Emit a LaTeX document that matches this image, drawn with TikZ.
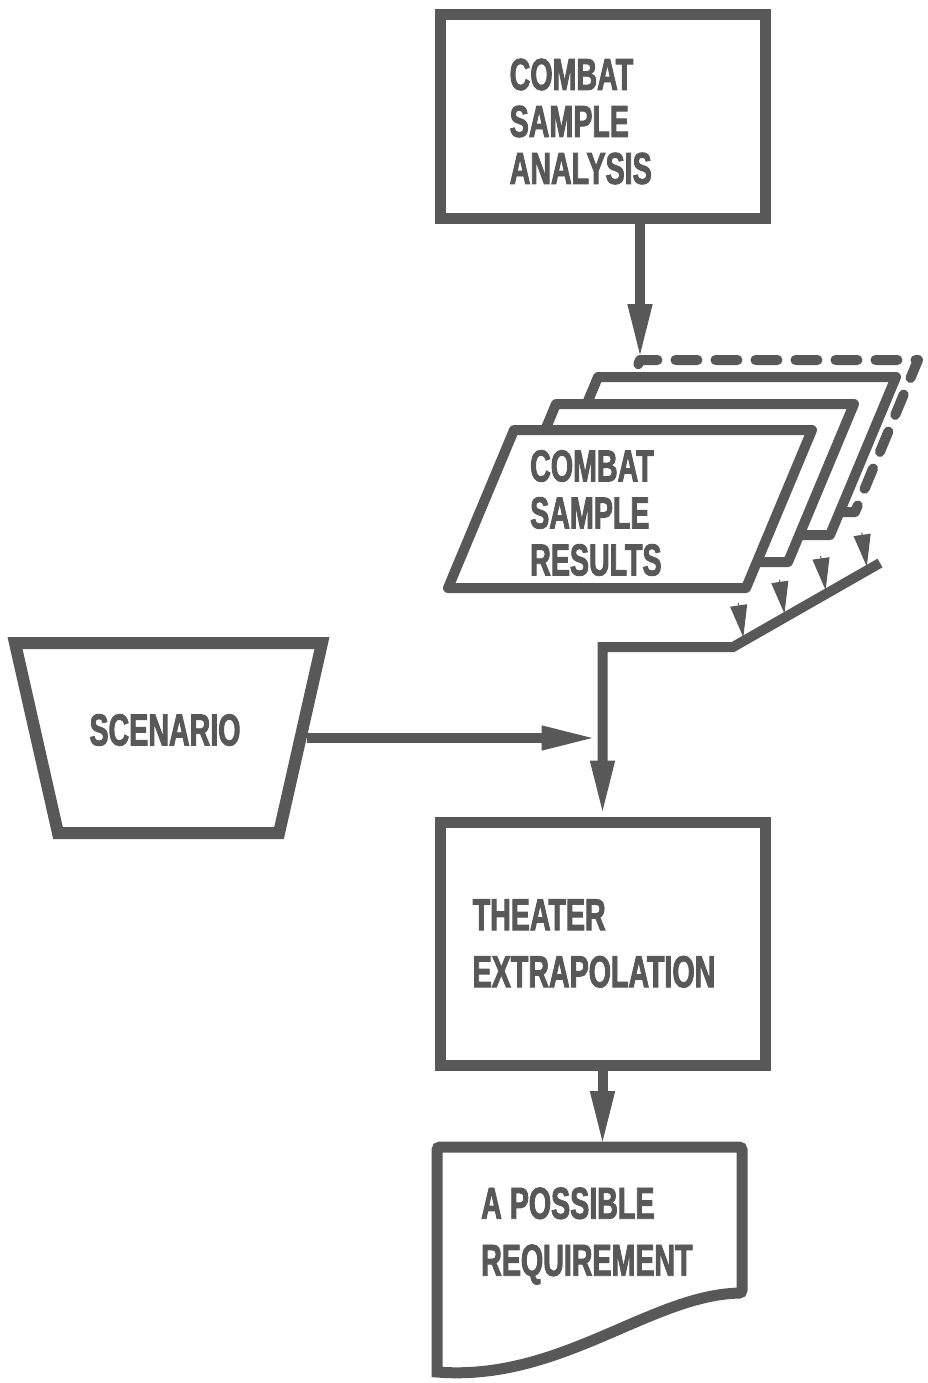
\documentclass[tikz,border=0pt]{standalone}
\usepackage{fontspec}
\newfontfamily\lblfont[FakeStretch=0.64, FakeBold=2]{Liberation Sans Bold}
\usetikzlibrary{arrows.meta, positioning, calc, shapes.geometric}
\definecolor{ink}{RGB}{88,88,88}

\tikzset{
  box/.style={draw=ink, line width=11pt, minimum width=325pt, fill=white},
  lbl/.style={text=ink, align=left, inner sep=0pt, font=\lblfont\fontsize{44.7}{47}\selectfont},
  flow/.style={draw=ink, line width=10pt, -{Triangle[length=56pt,width=22pt]}},
  sheet/.style={draw=ink, line width=10pt, fill=white, line join=round},
  tick/.style={draw=ink, line width=1pt, -{Triangle[length=32pt,width=17pt]}},
}

\begin{document}
\begin{tikzpicture}[x=1pt, y=-1pt]
  \useasboundingbox[fill=white] (0,0) rectangle (928,1383);

  \node [box, minimum height=203pt] (analysis) at (602.5,116.5) {};
  \node [lbl, right=75pt of analysis.west, yshift=-5pt] (analysisText) {COMBAT\\SAMPLE\\ANALYSIS};

  % stack of result sheets, back to front
  \coordinate (stacktop) at (640,360);
  \draw [sheet, dash pattern=on 22pt off 18pt, line cap=round]
    (577,512) -- (stacktop) -- (918,360) -- (855,512) -- cycle;
  \foreach \dx/\dy in {84/-53, 42/-26, 0/0}
    \draw [sheet, shift={(\dx,\dy)}] (448,588) -- (514,430) -- (812,430) -- (746,588) -- cycle;
  \node [lbl, anchor=west] (results) at (530,513) {COMBAT\\SAMPLE\\RESULTS};

  \draw [flow] (analysis.south -| stacktop) -- (stacktop);

  \node [draw=ink, line width=12pt, fill=white, trapezium, shape border rotate=180,
         trapezium angle=79, trapezium stretches=true,
         minimum width=307pt, minimum height=190pt] (scenario) at (168.5,738) {};
  \node [lbl] (scenarioText) at (165,730) {SCENARIO};

  \node [box, minimum height=243pt] (theater) at (602.5,943.5) {};
  \node [lbl, right=38pt of theater.west] (theaterText) {THEATER\\[10pt]EXTRAPOLATION};

  % feed from the sheets down to the extrapolation
  \coordinate (tail) at (880,563);
  \coordinate (bend) at (733,647);
  \coordinate (corner) at (theater.north |- bend);
  \coordinate (merge) at (theater.north |- scenario.east);
  \draw [flow, line join=miter] (tail) -- (bend) -- (corner) -- (theater.north);
  \foreach \t in {0.07, 0.35, 0.63, 0.91}
    \draw [tick] ($(bend)!\t!(tail) + (-5,-38)$) -- ($(bend)!\t!(tail) + (0,-4)$);
  \draw [flow, shorten >=5pt] (scenario.east) -- (merge);

  % document shape
  \coordinate (reqtop) at (theater.south |- 0,1147);
  \draw [draw=ink, line width=11pt, fill=white, rounded corners=3pt]
    (437,1372) -- (437,1147) -- (742,1147) -- (742,1293)
    [sharp corners] .. controls (650,1295) and (560,1382) .. (437,1372) -- cycle;
  \node [lbl, anchor=west] (req) at (481,1236) {A POSSIBLE\\[10pt]REQUIREMENT};

  \draw [flow] (theater.south) -- (reqtop);
\end{tikzpicture}
\end{document}
